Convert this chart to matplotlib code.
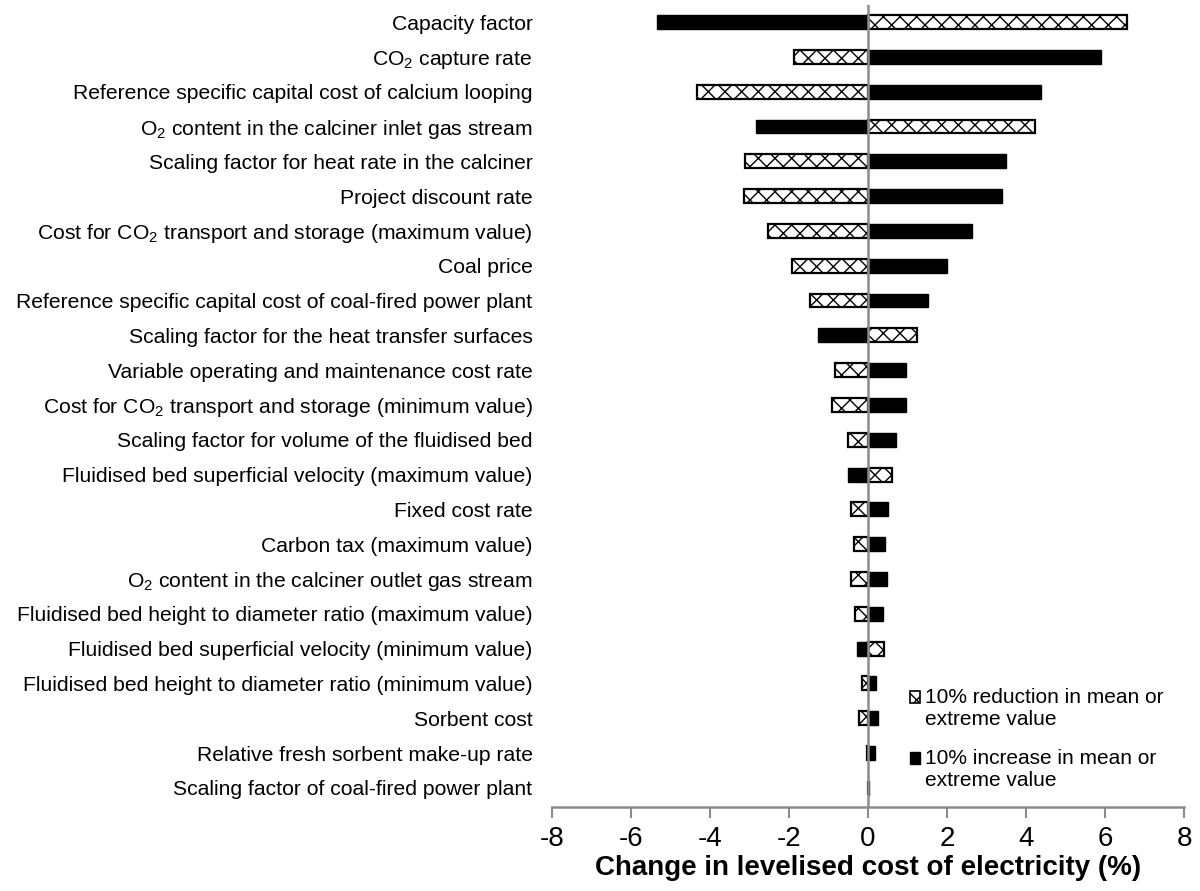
import numpy as np
import matplotlib
matplotlib.use('Agg')
import matplotlib.pyplot as plt
from matplotlib.patches import Rectangle, Patch
from matplotlib.legend_handler import HandlerPatch

plt.rcParams['font.family'] = ['Liberation Sans', 'DejaVu Sans']
plt.rcParams['mathtext.fontset'] = 'custom'
plt.rcParams['mathtext.rm'] = 'Liberation Sans'
plt.rcParams['mathtext.it'] = 'Liberation Sans:italic'
plt.rcParams['hatch.linewidth'] = 1.0

# parameters, top to bottom
labels = [
    'Capacity factor',
    'CO$_\\mathregular{2}$ capture rate',
    'Reference specific capital cost of calcium looping',
    'O$_\\mathregular{2}$ content in the calciner inlet gas stream',
    'Scaling factor for heat rate in the calciner',
    'Project discount rate',
    'Cost for CO$_\\mathregular{2}$ transport and storage (maximum value)',
    'Coal price',
    'Reference specific capital cost of coal-fired power plant',
    'Scaling factor for the heat transfer surfaces',
    'Variable operating and maintenance cost rate',
    'Cost for CO$_\\mathregular{2}$ transport and storage (minimum value)',
    'Scaling factor for volume of the fluidised bed',
    'Fluidised bed superficial velocity (maximum value)',
    'Fixed cost rate',
    'Carbon tax (maximum value)',
    'O$_\\mathregular{2}$ content in the calciner outlet gas stream',
    'Fluidised bed height to diameter ratio (maximum value)',
    'Fluidised bed superficial velocity (minimum value)',
    'Fluidised bed height to diameter ratio (minimum value)',
    'Sorbent cost',
    'Relative fresh sorbent make-up rate',
    'Scaling factor of coal-fired power plant',
]

# change in LCOE (%) for 10% reduction / increase
reduction = [6.55, -1.88, -4.34, 4.23, -3.12, -3.15, -2.54, -1.92, -1.47, 1.23,
             -0.83, -0.92, -0.51, 0.60, -0.43, -0.36, -0.42, -0.32, 0.41, -0.14,
             -0.22, -0.02, -0.01]
increase = [-5.35, 5.89, 4.37, -2.83, 3.50, 3.38, 2.63, 2.01, 1.53, -1.26,
            0.96, 0.96, 0.71, -0.51, 0.51, 0.42, 0.47, 0.37, -0.29, 0.21,
            0.24, 0.17, 0.02]

legend_labels = ['10% reduction in mean or\nextreme value',
                 '10% increase in mean or\nextreme value']

xticks = [-8, -6, -4, -2, 0, 2, 4, 6, 8]

y = np.arange(len(labels))
h = 0.4


# legend square sits on the first text line, like Excel does
def top_square(legend, orig_handle, xdescent, ydescent, width, height, fontsize):
    return Rectangle((-xdescent, -ydescent + 0.55 * fontsize), width, height)


fig = plt.figure(figsize=(12, 8.91), dpi=100)
ax = fig.add_axes([0.46, 0.0943, 0.5267, 0.9001])

ax.barh(y, reduction, height=h, color='white', edgecolor='black',
        hatch='xx', linewidth=1.6)
ax.barh(y, increase, height=h, color='black', edgecolor='black',
        linewidth=1.0)
ax.axvline(0, color='#8c8c8c', linewidth=1.8, zorder=5)

ax.set_xlim(-8, 8)
ax.set_ylim(len(labels) - 1 + 0.55, -0.49)
ax.set_xticks(xticks)
ax.set_xticklabels([str(t) for t in xticks], fontsize=20)
ax.set_yticks(y)
ax.set_yticklabels(labels, fontsize=15.2)
ax.tick_params(axis='y', length=0, pad=14)
ax.tick_params(axis='x', length=8, width=1.5, color='#8c8c8c', pad=6)

for s in ['top', 'right', 'left']:
    ax.spines[s].set_visible(False)
ax.spines['bottom'].set_color('#8c8c8c')
ax.spines['bottom'].set_linewidth(1.8)

ax.set_xlabel('Change in levelised cost of electricity (%)', fontsize=20,
              fontweight='bold', labelpad=2)

handles = [Patch(facecolor='white', edgecolor='black', hatch='xx', linewidth=1.2),
           Patch(facecolor='black', edgecolor='black', linewidth=1.0)]
ax.legend(handles, legend_labels, loc='upper left', bbox_to_anchor=(0.751, 0.237),
          bbox_transform=fig.transFigure, frameon=False, fontsize=15,
          handlelength=0.5, handleheight=0.5, handletextpad=0.25,
          labelspacing=0.95, borderaxespad=0,
          handler_map={h_: HandlerPatch(patch_func=top_square) for h_ in handles})

plt.savefig('out.png', dpi=100)
